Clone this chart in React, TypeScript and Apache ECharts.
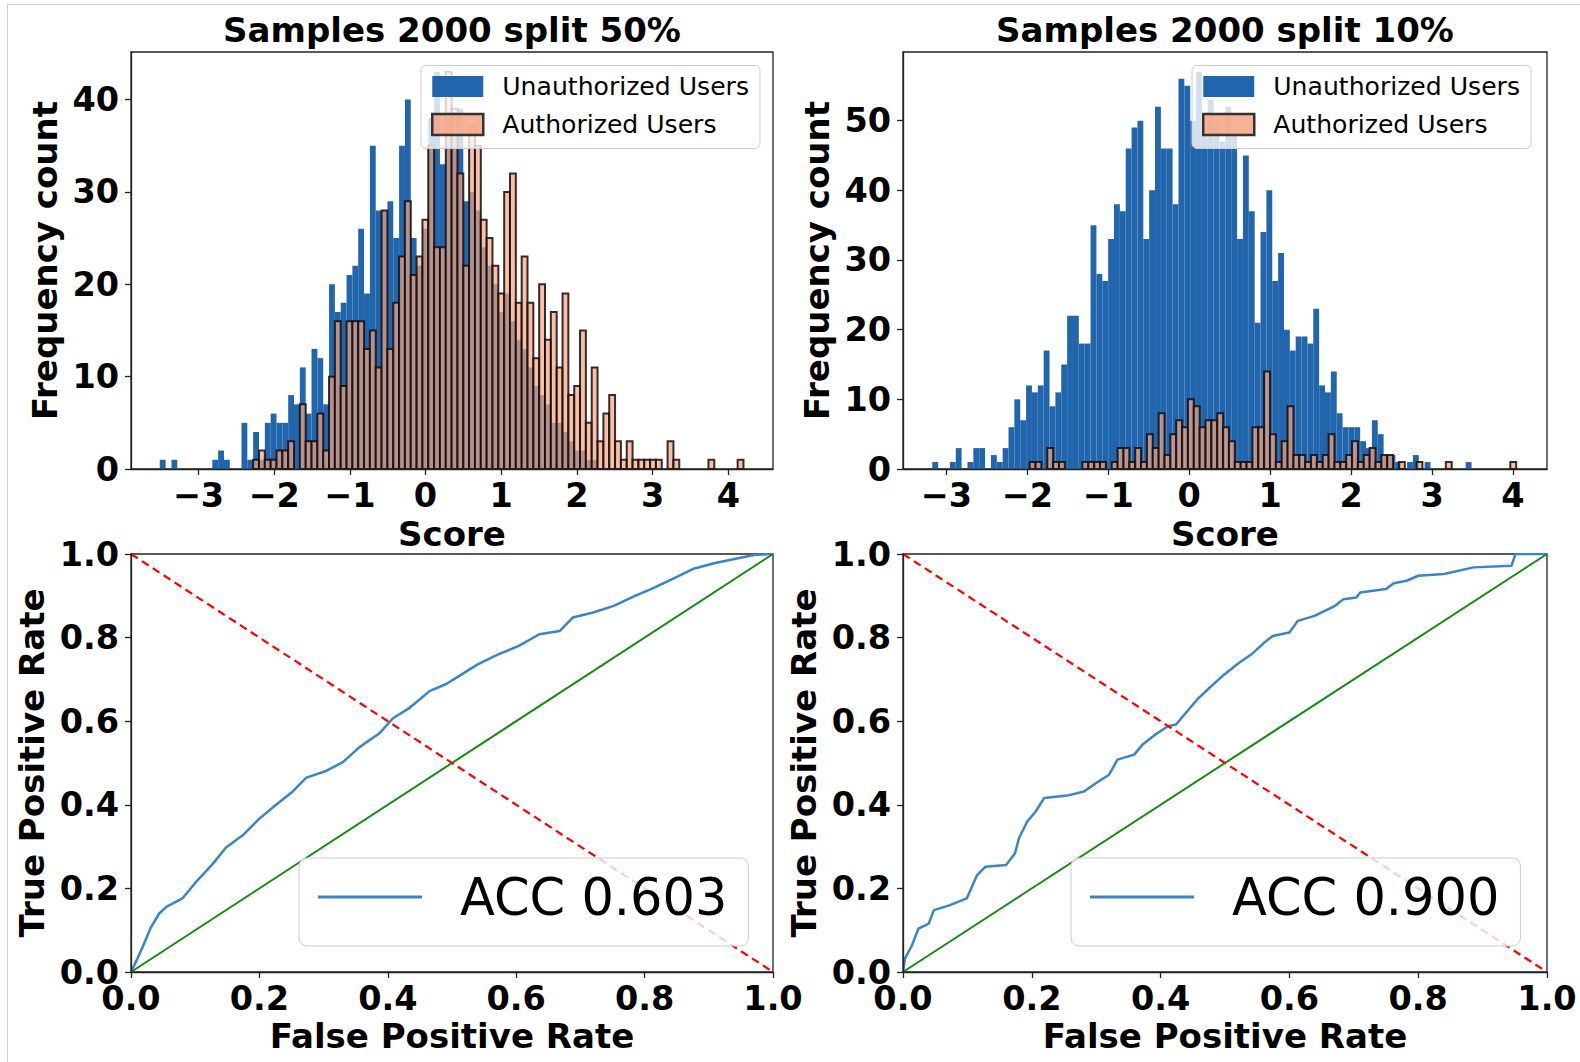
import React, { useEffect, useRef } from "react";
import * as echarts from "echarts";

const FONT = "DejaVu Sans";

// ---------- Top-left histogram: Samples 2000 split 50% ----------
const BIN_START_50 = -3.51;
const BIN_WIDTH_50 = 0.0771;
const unauthorized50 = [
  1, 0, 1, 0, 0, 0, 0, 0, 0, 1,
  2, 1, 0, 0, 5, 1, 4, 1, 5, 6,
  5, 5, 8, 7, 11, 6, 13, 12, 7, 20,
  17, 18, 21, 22, 26, 19, 35, 28, 28, 29,
  25, 35, 40, 25, 22, 26, 38, 43, 33, 38,
  36, 39, 29, 30, 28, 24, 22, 20, 17, 19,
  16, 14, 13, 11, 9, 8, 7, 5, 5, 4,
  3, 2, 2, 1, 1, 0, 0, 0, 0, 0,
  0, 0, 0, 0, 0, 0, 0, 0, 0, 0,
  0, 0, 0, 0, 0, 0, 0, 0, 0, 0,
];
const authorized50 = [
  0, 0, 0, 0, 0, 0, 0, 0, 0, 0,
  0, 0, 0, 0, 0, 0, 1, 2, 1, 1,
  2, 2, 3, 0, 7, 3, 3, 6, 2, 10,
  16, 9, 16, 16, 16, 13, 15, 11, 28, 13,
  18, 23, 29, 21, 23, 27, 35, 24, 24, 43,
  39, 32, 22, 37, 35, 27, 25, 22, 19, 30,
  32, 18, 23, 18, 12, 20, 14, 17, 11, 19,
  8, 9, 15, 5, 11, 3, 6, 8, 3, 1,
  3, 1, 1, 1, 1, 1, 0, 3, 1, 0,
  0, 0, 0, 0, 1, 0, 0, 0, 0, 1,
];

// ---------- Top-right histogram: Samples 2000 split 10% ----------
const UNAUTH_START_10 = -3.173;
const UNAUTH_WIDTH_10 = 0.0724;
const unauthorized10 = [
  1, 0, 0, 1, 3, 0, 1, 3, 3, 0,
  2, 1, 3, 6, 10, 7, 12, 11, 12, 17,
  9, 11, 15, 22, 22, 18, 18, 35, 28, 27,
  33, 38, 37, 46, 49, 50, 33, 40, 52, 46,
  46, 38, 56, 55, 50, 57, 48, 53, 50, 47,
  52, 48, 33, 45, 37, 21, 34, 40, 27, 31,
  20, 17, 19, 19, 18, 23, 12, 11, 14, 8,
  6, 6, 6, 4, 3, 7, 5, 2, 2, 1,
  0, 1, 2, 0, 1, 0, 0, 0, 0, 0,
  0, 1,
];
const AUTH_START_10 = -1.97;
const AUTH_WIDTH_10 = 0.0724;
const authorized10 = [
  1, 1, 0, 3, 1, 1, 0, 0, 0, 1,
  1, 1, 1, 0, 1, 3, 3, 1, 3, 1,
  5, 3, 8, 2, 5, 7, 6, 10, 9, 6,
  7, 7, 8, 6, 4, 1, 1, 1, 6, 6,
  14, 5, 1, 4, 9, 2, 2, 1, 2, 1,
  2, 5, 1, 1, 2, 4, 1, 2, 3, 1,
  2, 2, 0, 1, 0, 0, 1, 0, 0, 0,
  0, 1, 0, 0, 0, 0, 0, 0, 0, 0,
  0, 0, 1,
];

const HIST_X_TICKS = [-3, -2, -1, 0, 1, 2, 3, 4];
const HIST_Y_TICKS_50 = [0, 10, 20, 30, 40];
const HIST_Y_TICKS_10 = [0, 10, 20, 30, 40, 50];

// ---------- ROC curves ----------
const fpr50 = [0, 0.01, 0.018, 0.031, 0.044, 0.055, 0.08, 0.1, 0.127, 0.148, 0.174, 0.2, 0.226, 0.252, 0.273, 0.304, 0.33, 0.356, 0.387, 0.408, 0.434, 0.465, 0.491, 0.512, 0.54, 0.572, 0.604, 0.636, 0.668, 0.688, 0.72, 0.752, 0.785, 0.81, 0.843, 0.875, 0.908, 0.94, 0.972, 1];
const tpr50 = [0, 0.032, 0.059, 0.107, 0.14, 0.156, 0.176, 0.213, 0.258, 0.298, 0.327, 0.367, 0.4, 0.432, 0.465, 0.481, 0.502, 0.538, 0.571, 0.607, 0.632, 0.672, 0.689, 0.709, 0.736, 0.76, 0.78, 0.808, 0.816, 0.848, 0.86, 0.876, 0.9, 0.916, 0.94, 0.964, 0.978, 0.988, 0.998, 1];
const fpr10 = [0, 0.003, 0.014, 0.024, 0.04, 0.048, 0.073, 0.099, 0.115, 0.128, 0.16, 0.174, 0.18, 0.193, 0.206, 0.219, 0.255, 0.281, 0.3, 0.32, 0.333, 0.359, 0.372, 0.392, 0.411, 0.424, 0.437, 0.457, 0.476, 0.496, 0.522, 0.541, 0.561, 0.574, 0.6, 0.613, 0.639, 0.671, 0.684, 0.704, 0.71, 0.75, 0.762, 0.782, 0.8, 0.84, 0.886, 0.945, 0.951, 1];
const tpr10 = [0, 0.032, 0.064, 0.104, 0.116, 0.148, 0.16, 0.176, 0.232, 0.252, 0.256, 0.284, 0.32, 0.36, 0.384, 0.416, 0.422, 0.432, 0.452, 0.472, 0.508, 0.52, 0.544, 0.568, 0.588, 0.592, 0.616, 0.652, 0.68, 0.708, 0.74, 0.76, 0.788, 0.804, 0.812, 0.84, 0.852, 0.876, 0.892, 0.896, 0.908, 0.916, 0.93, 0.936, 0.948, 0.952, 0.968, 0.972, 1, 1];
const ACC_50 = "ACC 0.603";
const ACC_10 = "ACC 0.900";
const DIAG_X = [0, 1];
const CHANCE_Y = [0, 1];
const CROSS_Y = [1, 0];

const TITLES = ["Samples 2000 split 50%", "Samples 2000 split 10%"];

const BLUE = "#2166ac";
const SALMON_FILL = "rgba(244,165,130,0.7)";
const EDGE = "rgba(20,10,10,0.85)";
const ROC_BLUE = "#3a85c5";
const GREEN = "#128c12";
const RED = "#ff0000";

function bins(start: number, width: number, counts: number[]) {
  return counts.map((c, i) => [start + i * width, start + (i + 1) * width, c]);
}

function barRenderer(fill: string, stroke: string | null, lw: number) {
  return (params: any, api: any) => {
    const c = api.value(2);
    if (!c) return null;
    const p0 = api.coord([api.value(0), 0]);
    const p1 = api.coord([api.value(1), c]);
    return {
      type: "rect",
      shape: { x: p0[0], y: p1[1], width: p1[0] - p0[0], height: p0[1] - p1[1] },
      style: stroke ? { fill, stroke, lineWidth: lw } : { fill },
    };
  };
}

const minusFmt = (v: number) => (v < 0 ? "\u2212" + Math.abs(v) : String(v));

const tickLabel = { fontFamily: FONT, fontWeight: "bold" as const, fontSize: 33.5, color: "#000" };
const nameStyle = { fontFamily: FONT, fontWeight: "bold" as const, fontSize: 34, color: "#000" };
const axisLine = { show: true, onZero: false, lineStyle: { color: "#222", width: 1.3 } };
const axisTick = { show: true, length: 6, lineStyle: { color: "#222", width: 1.3 } };

function histX(gridIndex: number, min: number, max: number) {
  return {
    type: "value", gridIndex, min, max, z: 5,
    name: "Score", nameLocation: "middle", nameGap: 48, nameTextStyle: nameStyle,
    axisLine, axisTick: { ...axisTick, customValues: HIST_X_TICKS },
    axisLabel: { ...tickLabel, margin: 9, customValues: HIST_X_TICKS, formatter: minusFmt },
    splitLine: { show: false },
  };
}
function histY(gridIndex: number, max: number, ticks: number[]) {
  return {
    type: "value", gridIndex, min: 0, max, z: 5,
    name: "Frequency count", nameLocation: "middle", nameGap: 69, nameRotate: 90, nameTextStyle: nameStyle,
    axisLine, axisTick: { ...axisTick, customValues: ticks },
    axisLabel: { ...tickLabel, margin: 12, customValues: ticks },
    splitLine: { show: false },
  };
}
function rocX(gridIndex: number) {
  return {
    type: "value", gridIndex, min: 0, max: 1, interval: 0.2, z: 5,
    name: "False Positive Rate", nameLocation: "middle", nameGap: 47, nameTextStyle: nameStyle,
    axisLine, axisTick,
    axisLabel: { ...tickLabel, margin: 9, formatter: (v: number) => v.toFixed(1), showMaxLabel: true, showMinLabel: true },
    splitLine: { show: false },
  };
}
function rocY(gridIndex: number) {
  return {
    type: "value", gridIndex, min: 0, max: 1, interval: 0.2, z: 5,
    name: "True Positive Rate", nameLocation: "middle", nameGap: 82, nameRotate: 90, nameTextStyle: nameStyle,
    axisLine, axisTick,
    axisLabel: { ...tickLabel, margin: 12, formatter: (v: number) => v.toFixed(1) },
    splitLine: { show: false },
  };
}

function histLegend(left: number) {
  return {
    left, top: 65.5, orient: "vertical", selectedMode: false,
    padding: [6, 11, 9, 10], itemGap: 8, itemWidth: 51, itemHeight: 21,
    backgroundColor: "rgba(255,255,255,0.8)", borderColor: "#cccccc", borderWidth: 1, borderRadius: 5,
    textStyle: { fontFamily: FONT, fontSize: 25.1, color: "#000", lineHeight: 30, padding: [0, 0, 0, 14] },
    data: [
      { name: "Unauthorized Users", icon: "rect", itemStyle: { color: BLUE, borderWidth: 0 } },
      { name: "Authorized Users", icon: "rect", itemStyle: { color: "rgba(244,165,130,0.85)", borderColor: "#333", borderWidth: 2.5 } },
    ],
  };
}
function rocLegend(left: number, name: string) {
  return {
    left, top: 858, orient: "vertical", selectedMode: false,
    padding: [10, 21, 20, 19], itemWidth: 104, itemHeight: 3,
    backgroundColor: "rgba(255,255,255,0.8)", borderColor: "#cccccc", borderWidth: 1, borderRadius: 8,
    textStyle: { fontFamily: FONT, fontSize: 51, color: "#000", lineHeight: 58, padding: [0, 0, 0, 33] },
    data: [{ name, icon: "rect", itemStyle: { color: ROC_BLUE, borderWidth: 0 } }],
  };
}

function pairs(xs: number[], ys: number[]) {
  return xs.map((x, i) => [x, ys[i]]);
}

export default function App() {
  const ref = useRef<HTMLDivElement>(null);
  useEffect(() => {
    document.body.style.margin = "0";
    document.body.style.background = "#fff";
    if (!ref.current) return;
    const chart = echarts.init(ref.current, undefined, { renderer: "svg" });
    const gridBase = { show: true, borderColor: "#222", borderWidth: 1.3, backgroundColor: "transparent", containLabel: false, outerBoundsMode: "none" };
    const option: any = {
      animation: false,
      backgroundColor: "#fff",
      grid: [
        { ...gridBase, left: 131, top: 52, width: 642, height: 417 },
        { ...gridBase, left: 903, top: 52, width: 644, height: 417 },
        { ...gridBase, left: 131, top: 554, width: 642, height: 418 },
        { ...gridBase, left: 903, top: 554, width: 644, height: 418 },
      ],
      xAxis: [histX(0, -3.89, 4.59), histX(1, -3.535, 4.42), rocX(2), rocX(3)],
      yAxis: [histY(0, 45.15, HIST_Y_TICKS_50), histY(1, 59.85, HIST_Y_TICKS_10), rocY(2), rocY(3)],
      legend: [histLegend(421), histLegend(1192), rocLegend(299, ACC_50), rocLegend(1071, ACC_10)],
      graphic: [
        { type: "line", shape: { x1: 7.5, y1: 4.5, x2: 7.5, y2: 1062 }, style: { stroke: "#cfcfcf", lineWidth: 1 } },
        { type: "line", shape: { x1: 7.5, y1: 4.5, x2: 1580, y2: 4.5 }, style: { stroke: "#cfcfcf", lineWidth: 1 } },
        { type: "text", x: 452, y: 30, style: { text: TITLES[0], font: `bold 34px "${FONT}"`, fill: "#000", align: "center", verticalAlign: "middle" } },
        { type: "text", x: 1225, y: 30, style: { text: TITLES[1], font: `bold 34px "${FONT}"`, fill: "#000", align: "center", verticalAlign: "middle" } },
      ],
      series: [
        { type: "custom", name: "Unauthorized Users", xAxisIndex: 0, yAxisIndex: 0, z: 2, clip: true,
          encode: { x: [0, 1], y: 2 }, data: bins(BIN_START_50, BIN_WIDTH_50, unauthorized50),
          itemStyle: { color: BLUE }, renderItem: barRenderer(BLUE, null, 0) },
        { type: "custom", name: "Authorized Users", xAxisIndex: 0, yAxisIndex: 0, z: 3, clip: true,
          encode: { x: [0, 1], y: 2 }, data: bins(BIN_START_50, BIN_WIDTH_50, authorized50),
          itemStyle: { color: SALMON_FILL }, renderItem: barRenderer(SALMON_FILL, EDGE, 2) },
        { type: "custom", name: "Unauthorized Users", xAxisIndex: 1, yAxisIndex: 1, z: 2, clip: true,
          encode: { x: [0, 1], y: 2 }, data: bins(UNAUTH_START_10, UNAUTH_WIDTH_10, unauthorized10),
          itemStyle: { color: BLUE }, renderItem: barRenderer(BLUE, null, 0) },
        { type: "custom", name: "Authorized Users", xAxisIndex: 1, yAxisIndex: 1, z: 3, clip: true,
          encode: { x: [0, 1], y: 2 }, data: bins(AUTH_START_10, AUTH_WIDTH_10, authorized10),
          itemStyle: { color: SALMON_FILL }, renderItem: barRenderer(SALMON_FILL, EDGE, 2) },
        { type: "line", name: ACC_50, xAxisIndex: 2, yAxisIndex: 2, data: pairs(fpr50, tpr50), showSymbol: false, symbol: "none",
          lineStyle: { color: ROC_BLUE, width: 2.5 }, itemStyle: { color: ROC_BLUE }, z: 2 },
        { type: "line", name: "chance-50", xAxisIndex: 2, yAxisIndex: 2, data: pairs(DIAG_X, CHANCE_Y), showSymbol: false, symbol: "none",
          lineStyle: { color: GREEN, width: 2 }, z: 3 },
        { type: "line", name: "cross-50", xAxisIndex: 2, yAxisIndex: 2, data: pairs(DIAG_X, CROSS_Y), showSymbol: false, symbol: "none",
          lineStyle: { color: RED, width: 2.2, type: [8, 5] }, z: 3 },
        { type: "line", name: ACC_10, xAxisIndex: 3, yAxisIndex: 3, data: pairs(fpr10, tpr10), showSymbol: false, symbol: "none",
          lineStyle: { color: ROC_BLUE, width: 2.5 }, itemStyle: { color: ROC_BLUE }, z: 2 },
        { type: "line", name: "chance-10", xAxisIndex: 3, yAxisIndex: 3, data: pairs(DIAG_X, CHANCE_Y), showSymbol: false, symbol: "none",
          lineStyle: { color: GREEN, width: 2 }, z: 3 },
        { type: "line", name: "cross-10", xAxisIndex: 3, yAxisIndex: 3, data: pairs(DIAG_X, CROSS_Y), showSymbol: false, symbol: "none",
          lineStyle: { color: RED, width: 2.2, type: [8, 5] }, z: 3 },
      ],
    };
    chart.setOption(option);
    return () => chart.dispose();
  }, []);
  return <div ref={ref} style={{ width: 1580, height: 1062 }} />;
}
